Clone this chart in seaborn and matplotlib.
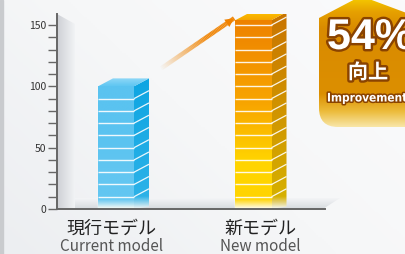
import numpy as np
import pandas as pd
import matplotlib
matplotlib.use('Agg')
import matplotlib.pyplot as plt
import seaborn as sns
from matplotlib.patches import Polygon, PathPatch
from matplotlib.path import Path
from matplotlib.colors import LinearSegmentedColormap
import matplotlib.patheffects as pe

# ---- data ----
categories_ja = ['現行モデル', '新モデル']
categories_en = ['Current model', 'New model']
values = [100, 154]
yticks = [0, 50, 100, 150]
badge_lines = ['向上', 'Improvement']

sns.set_theme(style='white')
plt.rcParams['font.family'] = ['Noto Sans CJK JP', 'DejaVu Sans']

W, H = 405, 254
fig = plt.figure(figsize=(W / 100, H / 100), dpi=100)
fig.patch.set_facecolor('#f3f4f6')

# background / decoration axes in pixel coordinates
bg = fig.add_axes([0, 0, 1, 1], zorder=0)
bg.set_xlim(0, W); bg.set_ylim(H, 0); bg.axis('off')
bgc = LinearSegmentedColormap.from_list('bg', ['#eceef1', '#f6f7f8', '#fbfbfc'])
xx, yy = np.meshgrid(np.linspace(0, 1, 200), np.linspace(0, 1, 120))
bg.imshow(0.6 * xx + 0.4 * (1 - yy), cmap=bgc, extent=(0, W, H, 0), aspect='auto', zorder=0)
bg.add_patch(Polygon([(0, 0), (3, 0), (3, H), (0, H)], closed=True, color='#c9cbce', zorder=1))


def grad_patch(axis, patch, stops, extent, zorder, horizontal=False):
    cmap = LinearSegmentedColormap.from_list('g', stops)
    if horizontal:
        arr = np.linspace(0, 1, 256).reshape(1, -1)
    else:
        arr = np.linspace(0, 1, 256).reshape(-1, 1)
    im = axis.imshow(arr, cmap=cmap, extent=extent, origin='lower', aspect='auto',
                     zorder=zorder, interpolation='bilinear')
    im.set_clip_path(patch)
    return im

# floor shading and axis shadow
floor = Polygon([(57, 209), (323, 209), (340, 198), (68, 198)], closed=True,
                facecolor='none', edgecolor='none')
bg.add_patch(floor)
grad_patch(bg, floor, [(0, '#d6dade'), (1, '#f4f5f7')], (57, 340, 209, 198), 2)
wall = Polygon([(57, 14), (75, 24), (75, 209), (57, 209)], closed=True,
               facecolor='none', edgecolor='none')
bg.add_patch(wall)
grad_patch(bg, wall, [(0, '#cdd0d5'), (1, '#f2f3f5')], (57, 75, 209, 14), 2, horizontal=True)

# ---- main axes ----
ax = fig.add_axes([57 / W, (H - 209) / H, (325 - 57) / W, (209 - 14) / H], zorder=1)
ax.patch.set_alpha(0)
df = pd.DataFrame({'model': categories_ja, 'value': values})
bw = 0.262
sns.barplot(data=df, x='model', y='value', ax=ax, width=bw, color='#5ac3f0',
            saturation=1, errorbar=None, zorder=3)

XL = (-0.429, 1.52)
YL = (0, 159)
dx, dy = 0.109, 6.5
fade = 8.0

front_styles = [
    dict(top='#5ac3f0', mid='#5ac3f0', bot='#62c6f1', side_top='#0ea5e2', side_bot='#2cb2e8',
         topface=('#5fc6f2', '#8fd8f7')),
    dict(top='#ee8200', mid='#f8a600', bot='#ffd400', side_top='#c97400', side_bot='#d6b000',
         topface=('#f5a500', '#ffc600')),
]

for i, (bar, v) in enumerate(zip(ax.patches, values)):
    st = front_styles[i]
    x0 = bar.get_x(); x1 = x0 + bar.get_width(); h = bar.get_height()
    f = fade / h
    grad_patch(ax, bar, [(0, '#fdfcf4'), (f, st['bot']), (min(0.5, 3 * f) + 0.1, st['bot']),
                         (0.55, st['mid']), (1, st['top'])], (x0, x1, 0, h), 4)
    side = Polygon([(x1, 0), (x1, h), (x1 + dx, h + dy), (x1 + dx, dy * 0.3)], closed=True,
                   facecolor='none', edgecolor='none')
    ax.add_patch(side)
    grad_patch(ax, side, [(0, '#f4f6f4'), (f * 1.2, st['side_bot']), (1, st['side_top'])],
               (x1, x1 + dx, 0, h + dy), 4)
    topf = Polygon([(x0, h), (x1, h), (x1 + dx, h + dy), (x0 + dx, h + dy)], closed=True,
                   facecolor='none', edgecolor='none')
    ax.add_patch(topf)
    grad_patch(ax, topf, [(0, st['topface'][0]), (1, st['topface'][1])],
               (x0, x1 + dx, h, h + dy), 4)
    for s in np.arange(10, h, 10):
        ax.plot([x0, x1], [s, s], color='white', lw=1, alpha=0.9, zorder=5,
                solid_capstyle='butt')
        ax.plot([x1, x1 + dx], [s, s + dy], color='white', lw=0.9, alpha=0.9, zorder=5,
                solid_capstyle='butt')

# gradient arrow
bars = ax.patches
b0x1 = bars[0].get_x() + bars[0].get_width()
b1x0 = bars[1].get_x()
p0 = np.array([b0x1 + dx + 0.08, values[0] + 14])
p1 = np.array([b1x0 - 0.01, values[1] + 1.5])
n = 60
for k in range(n):
    a = p0 + (p1 - p0) * k / n
    b = p0 + (p1 - p0) * (k + 1.05) / n
    t = k / n
    ax.plot([a[0], b[0]], [a[1], b[1]], color='#f08a10', lw=3.2, alpha=min(1, t * 1.6),
            solid_capstyle='butt', zorder=6)
ax.annotate('', xy=p1, xytext=p1 - (p1 - p0) * 0.05,
            arrowprops=dict(arrowstyle='-|>', mutation_scale=16, color='#f08200', lw=0),
            zorder=7)

ax.set_xlim(*XL)
ax.set_ylim(*YL)
ax.set_yticks(yticks)
ax.set_yticks(np.arange(0, 160, 10), minor=True)
ax.tick_params(axis='y', which='both', direction='out', length=6.5, width=1, color='#666666',
               left=True, pad=1.5, labelsize=7.5, labelcolor='#333333')
ax.tick_params(axis='x', bottom=False, labelbottom=False)
ax.set_xlabel(''); ax.set_ylabel('')
for s in ['top', 'right']:
    ax.spines[s].set_visible(False)
for s in ['left', 'bottom']:
    ax.spines[s].set_color('#666666')
    ax.spines[s].set_linewidth(1.4)
    ax.spines[s].set_zorder(8)
ax.grid(False)

offs = [-0.03, 0.05]
for i, (ja, en) in enumerate(zip(categories_ja, categories_en)):
    ax.text(i + offs[i], -0.10, ja, transform=ax.get_xaxis_transform(), ha='center',
            va='center', fontsize=13, color='#222222')
    ax.text(i + offs[i], -0.192, en, transform=ax.get_xaxis_transform(), ha='center',
            va='center', fontsize=11, color='#555555')

# ---- badge ----
top = fig.add_axes([0, 0, 1, 1], zorder=3)
top.set_xlim(0, W); top.set_ylim(H, 0); top.axis('off'); top.patch.set_alpha(0)
verts = [(319, 18), (361, -4), (420, 18), (420, 127), (338, 127),
         (319, 127), (319, 108), (319, 18)]
codes = [Path.MOVETO, Path.LINETO, Path.LINETO, Path.LINETO, Path.LINETO,
         Path.CURVE3, Path.CURVE3, Path.CLOSEPOLY]
badge = PathPatch(Path(verts, codes), facecolor='none', edgecolor='none')
top.add_patch(badge)
cm_b = LinearSegmentedColormap.from_list('b', [(0, '#f7d000'), (0.12, '#e6a000'),
                                               (0.25, '#d98b00'), (0.75, '#dc8f00'),
                                               (0.88, '#ecbb3a'), (1, '#f8e6a8')])
im = top.imshow(np.linspace(0, 1, 256).reshape(-1, 1), cmap=cm_b, extent=(319, 420, 127, -4),
                origin='upper', aspect='auto', interpolation='bilinear', zorder=1)
im.set_clip_path(badge)
top.set_xlim(0, W); top.set_ylim(H, 0)

improvement = round((values[1] - values[0]) / values[0] * 100)
stroke = [pe.withStroke(linewidth=3.5, foreground='#8a4300')]
top.text(327, 38, f'{improvement}%', ha='left', va='center', fontsize=31, fontweight='bold',
         color='white', family=['Liberation Sans', 'DejaVu Sans'], path_effects=stroke, zorder=3)
top.text(368, 72, badge_lines[0], ha='center', va='center', fontsize=14.5, fontweight='bold',
         color='white', path_effects=stroke, zorder=3)
top.text(327, 98, badge_lines[1], ha='left', va='center', fontsize=8.5, fontweight='bold',
         color='white', family=['Liberation Sans Narrow', 'DejaVu Sans'], fontstretch='condensed',
         path_effects=[pe.withStroke(linewidth=2.2, foreground='#8a4300')], zorder=3)

fig.savefig('out.png', dpi=100, facecolor=fig.get_facecolor())
